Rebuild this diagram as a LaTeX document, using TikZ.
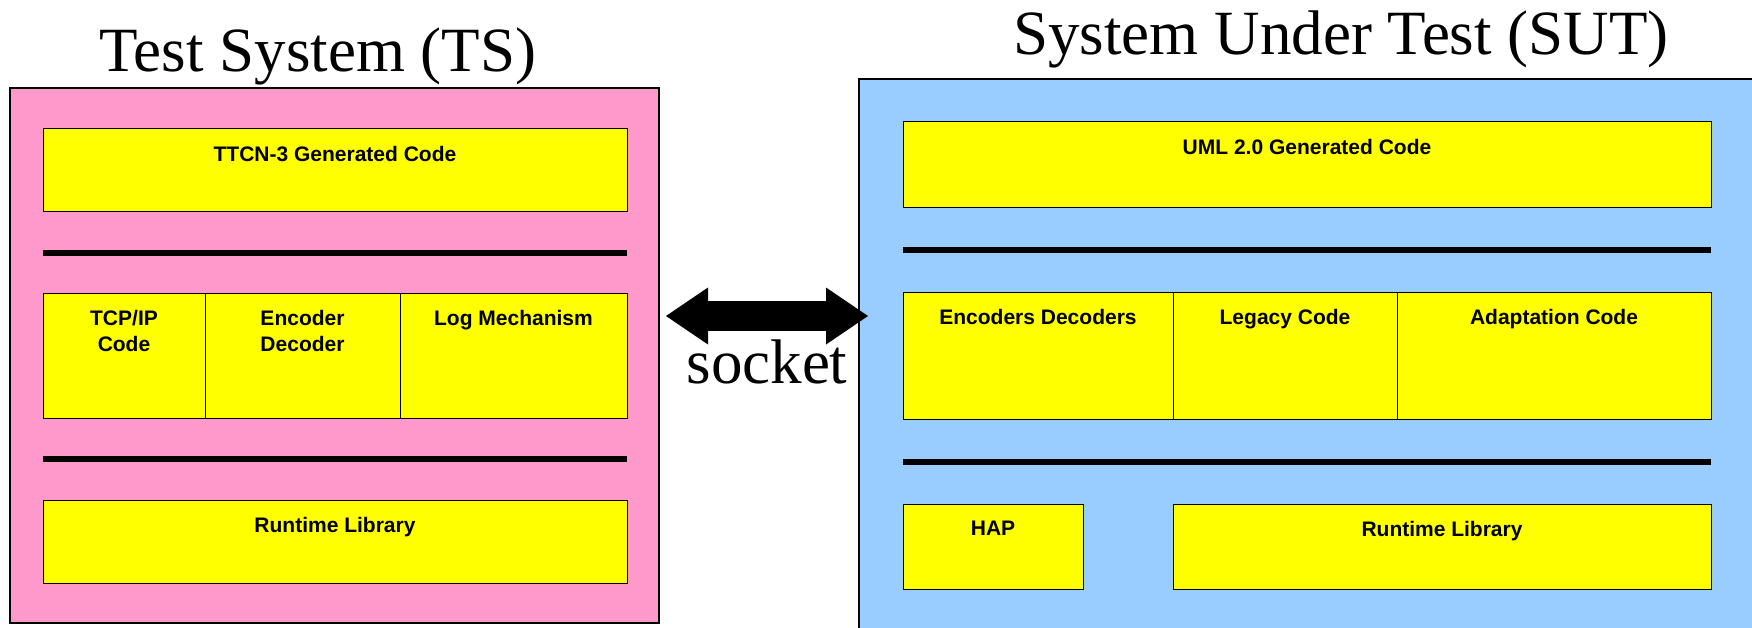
\documentclass[tikz,border=0pt]{standalone}
\usepackage{fontspec}
\setmainfont{Liberation Serif}
\newfontfamily\labelfont{Liberation Sans}
\usetikzlibrary{arrows.meta}
\definecolor{tspink}{HTML}{FF99CC}
\definecolor{sutblue}{HTML}{99CCFF}
\definecolor{blockyellow}{HTML}{FFFF00}
\begin{document}
\begin{tikzpicture}[x=1pt,y=-1pt,
title/.style={anchor=base,inner sep=0,font=\fontsize{63}{70}\selectfont},
system/.style={draw,line width=1.5pt,anchor=north west,inner sep=0,outer sep=0},
block/.style={draw,line width=1pt,fill=blockyellow,anchor=north west,inner sep=0,outer sep=0},
blocklabel/.style={anchor=north,align=center,inner sep=0,yshift=-17pt,font=\labelfont\bfseries\fontsize{21}{26}\selectfont},
layer/.style={line width=6pt},
socket/.style={line width=30pt,{Triangle[length=42pt,width=57pt,line width=0pt]}-{Triangle[length=42pt,width=57pt,line width=0pt]}},
]
\useasboundingbox(0,0)rectangle(1752,628);
\clip(0,0)rectangle(1752,628);
%titles
\node[title](tstitle)at(318,72){Test System (TS)};
\node[title](suttitle)at(1341,55){System Under Test (SUT)};
%test system
\node[system,fill=tspink,minimum width=649pt,minimum height=535pt](ts)at(10,88){};
\node[block,minimum width=584pt,minimum height=83pt,label={[blocklabel]north:TTCN-3 Generated Code}](ttcn)at(43,129){};
\draw[layer]([yshift=-41pt]ttcn.south west)--([yshift=-41pt]ttcn.south east);
\node[block,minimum width=162pt,minimum height=125pt,label={[blocklabel]north:{TCP/IP\\Code}}](tcpip)at(43,293){};
\node[block,minimum width=195pt,minimum height=125pt,label={[blocklabel]north:{Encoder\\Decoder}}](encoder)at(205,293){};
\node[block,minimum width=227pt,minimum height=125pt,label={[blocklabel]north:Log Mechanism}](logmech)at(400,293){};
\draw[layer]([yshift=-41pt]tcpip.south west)--([yshift=-41pt]logmech.south east);
\node[block,minimum width=584pt,minimum height=83pt,label={[blocklabel]north:Runtime Library}](tsruntime)at(43,500){};
%system under test
\node[system,fill=sutblue,minimum width=930pt,minimum height=600pt](sut)at(859,79){};
\node[block,minimum width=808pt,minimum height=86pt,label={[blocklabel]north:UML 2.0 Generated Code}](uml)at(903,122){};
\draw[layer]([yshift=-42pt]uml.south west)--([yshift=-42pt]uml.south east);
\node[block,minimum width=270pt,minimum height=127pt,label={[blocklabel]north:Encoders Decoders}](encdec)at(903,292){};
\node[block,minimum width=224pt,minimum height=127pt,label={[blocklabel]north:Legacy Code}](legacy)at(1173,292){};
\node[block,minimum width=314pt,minimum height=127pt,label={[blocklabel]north:Adaptation Code}](adapt)at(1397,292){};
\draw[layer]([yshift=-43pt]encdec.south west)--([yshift=-43pt]adapt.south east);
\node[block,minimum width=180pt,minimum height=85pt,label={[blocklabel]north:HAP}](hap)at(903,504){};
\node[block,minimum width=538pt,minimum height=85pt,label={[blocklabel]north:Runtime Library}](sutruntime)at(1173,504){};
%socket
\coordinate(sockL)at(666,316);
\coordinate(sockR)at(868,316);
\draw[socket](sockL)--(sockR)node[midway,anchor=base,inner sep=0,yshift=-67pt,font=\fontsize{63}{70}\selectfont](socklabel){socket};
\end{tikzpicture}
\end{document}
